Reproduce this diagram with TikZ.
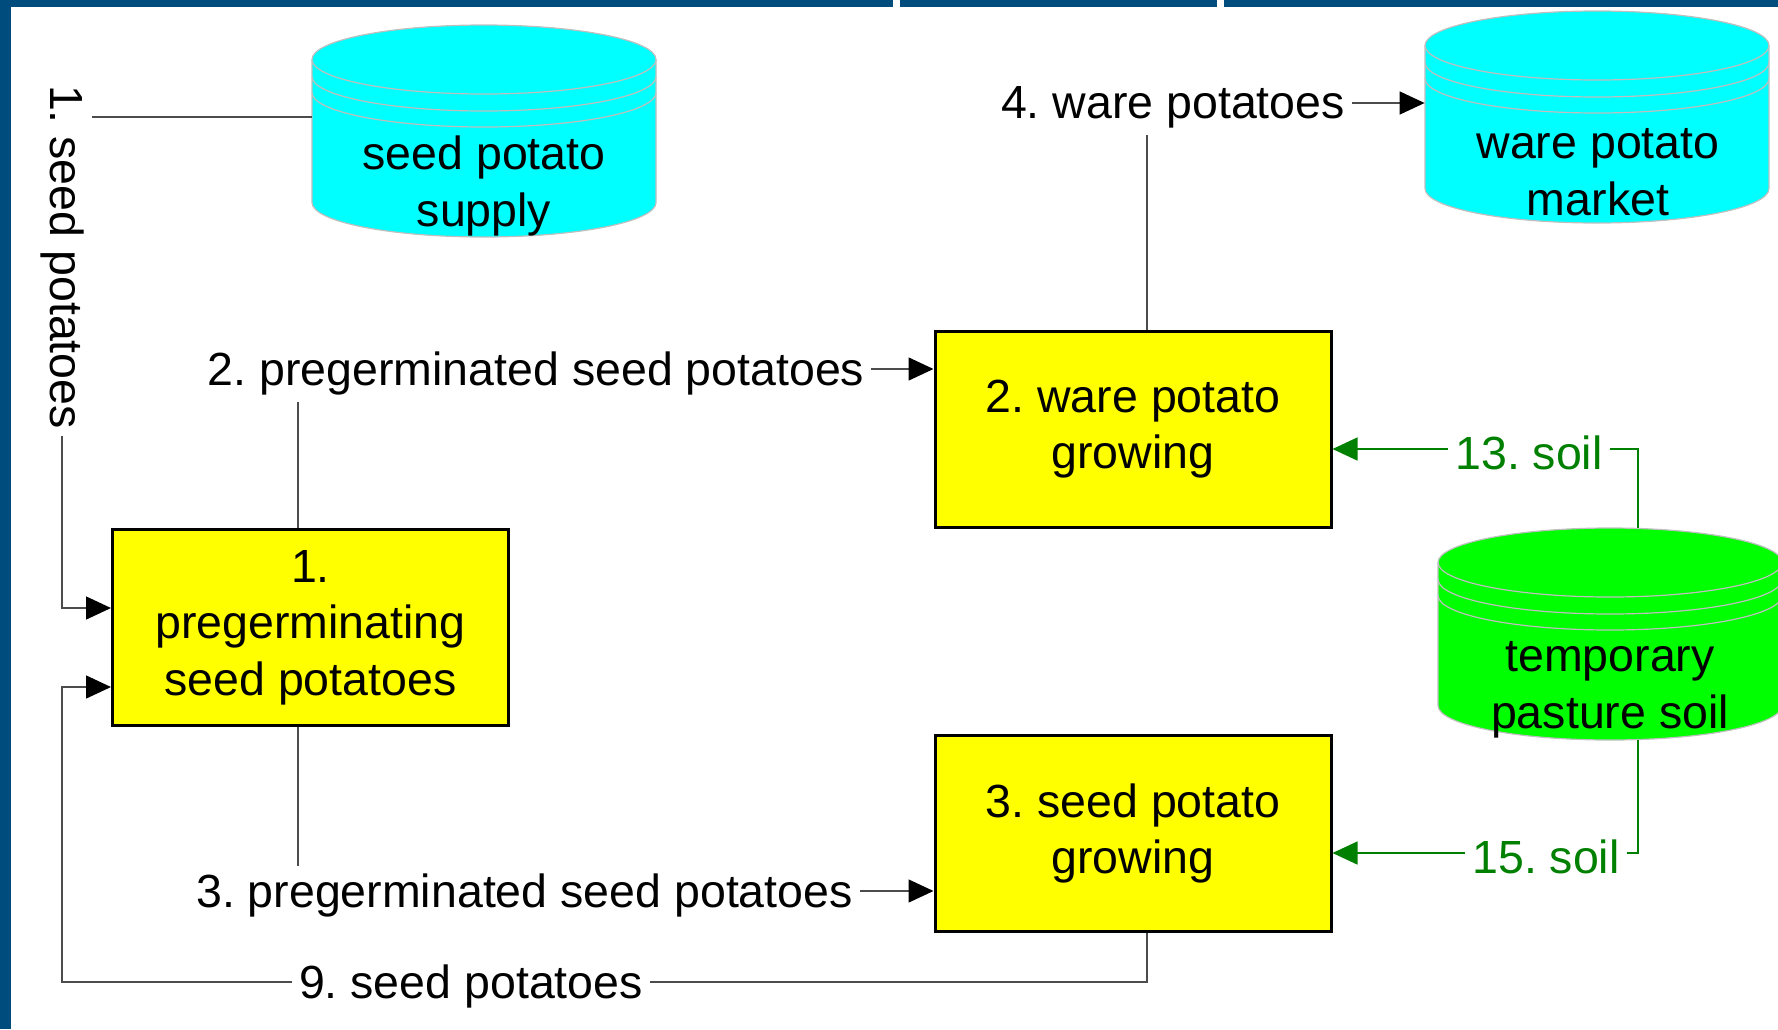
\documentclass[tikz,border=0pt]{standalone}
\usepackage{fontspec}
\setmainfont{Liberation Sans}
\usetikzlibrary{arrows.meta}
\frenchspacing

\begin{document}
\begin{tikzpicture}[x=0.5pt, y=-0.5pt, font=\fontsize{23.25pt}{28.25pt}\selectfont]

\def\drumw{344}
\def\drumrx{172}
\def\drumh{212}
\def\drumr{34.5}
\def\rail{62}

% Colours
\definecolor{framecolor}{RGB}{0,76,124}
\definecolor{drumcyan}{RGB}{0,255,255}
\definecolor{pasturecolor}{RGB}{0,255,0}
\definecolor{soilcolor}{RGB}{0,128,0}
\definecolor{boxcolor}{RGB}{255,255,0}
\colorlet{rimcolor}{black!25}
\colorlet{linecolor}{black!70}

% Styles
\tikzstyle{process}=[draw=black, fill=boxcolor, line width=1.5pt, minimum width=198pt, minimum height=98pt, align=center, inner sep=0pt]
\tikzstyle{drum area}=[minimum width=172pt, minimum height=106pt, inner sep=0pt]
\tikzstyle{drum text}=[align=center, inner sep=0pt]
\tikzstyle{drum arc}=[x radius=\drumrx, y radius=\drumr]
\tikzstyle{flow}=[draw=linecolor, line width=0.75pt, -{Triangle[length=12.5pt, width=11.5pt, color=black]}]
\tikzstyle{soil flow}=[draw=soilcolor, line width=0.7pt, -{Triangle[length=12.5pt, width=11.5pt]}]
\tikzstyle{flow label}=[fill=white, inner sep=3.5pt]

% Frame
\useasboundingbox (0,0) rectangle (1778,1029);
\fill[framecolor] (0,0) rectangle (11,1029);
\fill[framecolor] (0,0) rectangle (1778,7);
\fill[white] (893,0) rectangle (900,7);
\fill[white] (1217,0) rectangle (1224,7);

% Stores
\foreach \name/\drumx/\drumy/\col in {supply/312/25/drumcyan, market/1425/11/drumcyan, pasture/1438/528/pasturecolor}{
  \filldraw[fill=\col, draw=rimcolor, line width=0.6pt] (\drumx,\drumy+\drumr) -- (\drumx,\drumy+\drumh-\drumr) arc[drum arc, start angle=180, end angle=0] -- (\drumx+\drumw,\drumy+\drumr) arc[drum arc, start angle=0, end angle=-180] -- cycle;
  \foreach \band in {0,17,33}
    \draw[rimcolor, line width=0.6pt] (\drumx,\drumy+\drumr+\band) arc[drum arc, start angle=180, end angle=0];
  \node[drum area] (\name) at (\drumx+\drumrx,\drumy+\drumh/2) {};
}
\node[drum text] (supply text) at (484,186) {seed potato\\supply};
\node[drum text] (market text) at (1598,172) {ware potato\\market};
\node[drum text] (pasture text) at (1610,690) {temporary\\pasture soil};

% Processes
\node[process] (pregerm) at (310.5,627.5) {1.\\pregerminating\\seed potatoes};
\node[process] (waregrow) at (1133,429) {2. ware potato\\growing};
\node[process] (seedgrow) at (1133,833.5) {3. seed potato\\growing};

% Flows
\coordinate (in1) at ([yshift=9.75pt]pregerm.west);
\coordinate (in9) at ([yshift=-29.75pt]pregerm.west);
\coordinate (loop) at (\rail,982);

\draw[flow] ([yshift=7pt]supply.west) -| (in1 -| loop) -- (in1);
\node[flow label, rotate=-90] (seed1) at (63,257) {1. seed potatoes};

\draw[flow] ([xshift=7pt]seedgrow.south) |- (loop) |- (in9);
\node[flow label] (seed9) at (471,986) {9. seed potatoes};

\draw[flow] ([xshift=-6.25pt]pregerm.north) |- ([yshift=30pt]waregrow.west);
\node[flow label] (pregerm2) at (536,373) {2. pregerminated seed potatoes};

\draw[flow] ([xshift=-6.25pt]pregerm.south) |- ([yshift=-28.75pt]seedgrow.west);
\node[flow label] (pregerm3) at (524.5,895) {3. pregerminated seed potatoes};

\draw[flow] ([xshift=7pt]waregrow.north) |- ([yshift=7pt]market.west);
\node[flow label] (ware4) at (1173,107) {4. ware potatoes};

\draw[soil flow] ([xshift=14pt]pasture.north) |- ([yshift=-10pt]waregrow.east);
\node[flow label, text=soilcolor] (soil13) at (1529,453) {13. soil};

\draw[soil flow] ([xshift=14pt]pasture.south) |- ([yshift=-9.75pt]seedgrow.east);
\node[flow label, text=soilcolor] (soil15) at (1546,857) {15. soil};

\end{tikzpicture}
\end{document}
